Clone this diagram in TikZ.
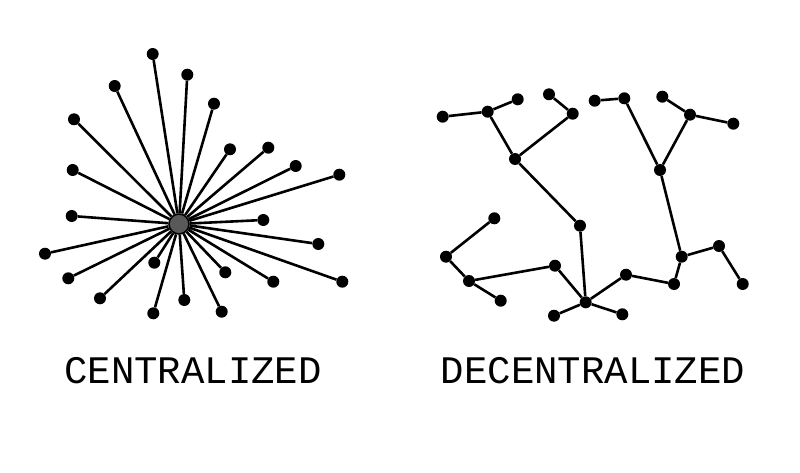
\documentclass[tikz,border=0pt]{standalone}
\usepackage{fontspec}
\usetikzlibrary{arrows}
\newfontfamily\capfont{Liberation Mono}

\begin{document}
\begin{tikzpicture}[x = 1pt, y = -1pt]
\tikzstyle{dot}=[shape = circle,
                 fill = black,
                 minimum size = 12 pt,
                 inner sep = 0pt]
\tikzstyle{hub}=[shape = circle,
                 fill = black!65,
                 draw = black,
                 line width = 1.6pt,
                 minimum size = 20 pt,
                 inner sep = 0pt]
\tikzstyle{link}=[line width = 2.6pt]
\tikzstyle{caption}=[font = \capfont\fontsize{39}{39}\selectfont, inner sep = 0pt]
\useasboundingbox (0,0) rectangle (800,473);
% centralized
\node[hub] (c0) at (179, 224) {};
\node[dot] (c1) at (152.7, 54.0) {};
\node[dot] (c2) at (187.3, 74.7) {};
\node[dot] (c3) at (114.7, 86.0) {};
\node[dot] (c4) at (214.0, 103.7) {};
\node[dot] (c5) at (74.0, 119.3) {};
\node[dot] (c6) at (230.0, 149.3) {};
\node[dot] (c7) at (268.3, 147.7) {};
\node[dot] (c8) at (295.7, 166.0) {};
\node[dot] (c9) at (339.3, 174.7) {};
\node[dot] (c10) at (72.7, 170.0) {};
\node[dot] (c11) at (71.7, 216.0) {};
\node[dot] (c12) at (263.3, 220.0) {};
\node[dot] (c13) at (318.3, 244.0) {};
\node[dot] (c14) at (45.0, 253.7) {};
\node[dot] (c15) at (68.3, 278.3) {};
\node[dot] (c16) at (154.3, 262.7) {};
\node[dot] (c17) at (225.3, 272.3) {};
\node[dot] (c18) at (273.3, 281.7) {};
\node[dot] (c19) at (342.3, 281.7) {};
\node[dot] (c20) at (100.0, 298.3) {};
\node[dot] (c21) at (184.3, 300.0) {};
\node[dot] (c22) at (153.3, 313.3) {};
\node[dot] (c23) at (221.7, 311.7) {};
\foreach \i in {1,...,23}
  \draw[link] (c0) -- (c\i);
% decentralized
\node[dot] (d0) at (442.7, 116.7) {};
\node[dot] (d1) at (487.7, 111.7) {};
\node[dot] (d2) at (517.7, 99.3) {};
\node[dot] (d3) at (549.0, 94.3) {};
\node[dot] (d4) at (572.7, 113.7) {};
\node[dot] (d5) at (515.0, 159.0) {};
\node[dot] (d6) at (580.0, 225.7) {};
\node[dot] (d7) at (594.7, 100.7) {};
\node[dot] (d8) at (624.3, 98.3) {};
\node[dot] (d9) at (662.3, 96.7) {};
\node[dot] (d10) at (690.0, 114.7) {};
\node[dot] (d11) at (733.3, 123.7) {};
\node[dot] (d12) at (660.0, 170.0) {};
\node[dot] (d13) at (494.3, 218.3) {};
\node[dot] (d14) at (446.0, 256.7) {};
\node[dot] (d15) at (555.0, 265.7) {};
\node[dot] (d16) at (469.0, 281.0) {};
\node[dot] (d17) at (500.7, 300.7) {};
\node[dot] (d18) at (585.7, 302.3) {};
\node[dot] (d19) at (554.0, 315.7) {};
\node[dot] (d20) at (622.3, 314.3) {};
\node[dot] (d21) at (626.0, 274.7) {};
\node[dot] (d22) at (674.0, 284.0) {};
\node[dot] (d23) at (681.7, 256.7) {};
\node[dot] (d24) at (719.0, 246.0) {};
\node[dot] (d25) at (742.7, 284.0) {};
\draw[link] (d0) -- (d1);
\draw[link] (d1) -- (d2);
\draw[link] (d1) -- (d5);
\draw[link] (d3) -- (d4);
\draw[link] (d4) -- (d5);
\draw[link] (d5) -- (d6);
\draw[link] (d6) -- (d18);
\draw[link] (d7) -- (d8);
\draw[link] (d8) -- (d12);
\draw[link] (d9) -- (d10);
\draw[link] (d10) -- (d11);
\draw[link] (d10) -- (d12);
\draw[link] (d12) -- (d23);
\draw[link] (d23) -- (d24);
\draw[link] (d24) -- (d25);
\draw[link] (d23) -- (d22);
\draw[link] (d22) -- (d21);
\draw[link] (d21) -- (d18);
\draw[link] (d18) -- (d20);
\draw[link] (d18) -- (d19);
\draw[link] (d18) -- (d15);
\draw[link] (d15) -- (d16);
\draw[link] (d16) -- (d14);
\draw[link] (d14) -- (d13);
\draw[link] (d16) -- (d17);
% captions
\node[caption] (lcap) at (193, 371) {CENTRALIZED};
\node[caption] (rcap) at (593, 371) {DECENTRALIZED};
\end{tikzpicture}
\end{document}
